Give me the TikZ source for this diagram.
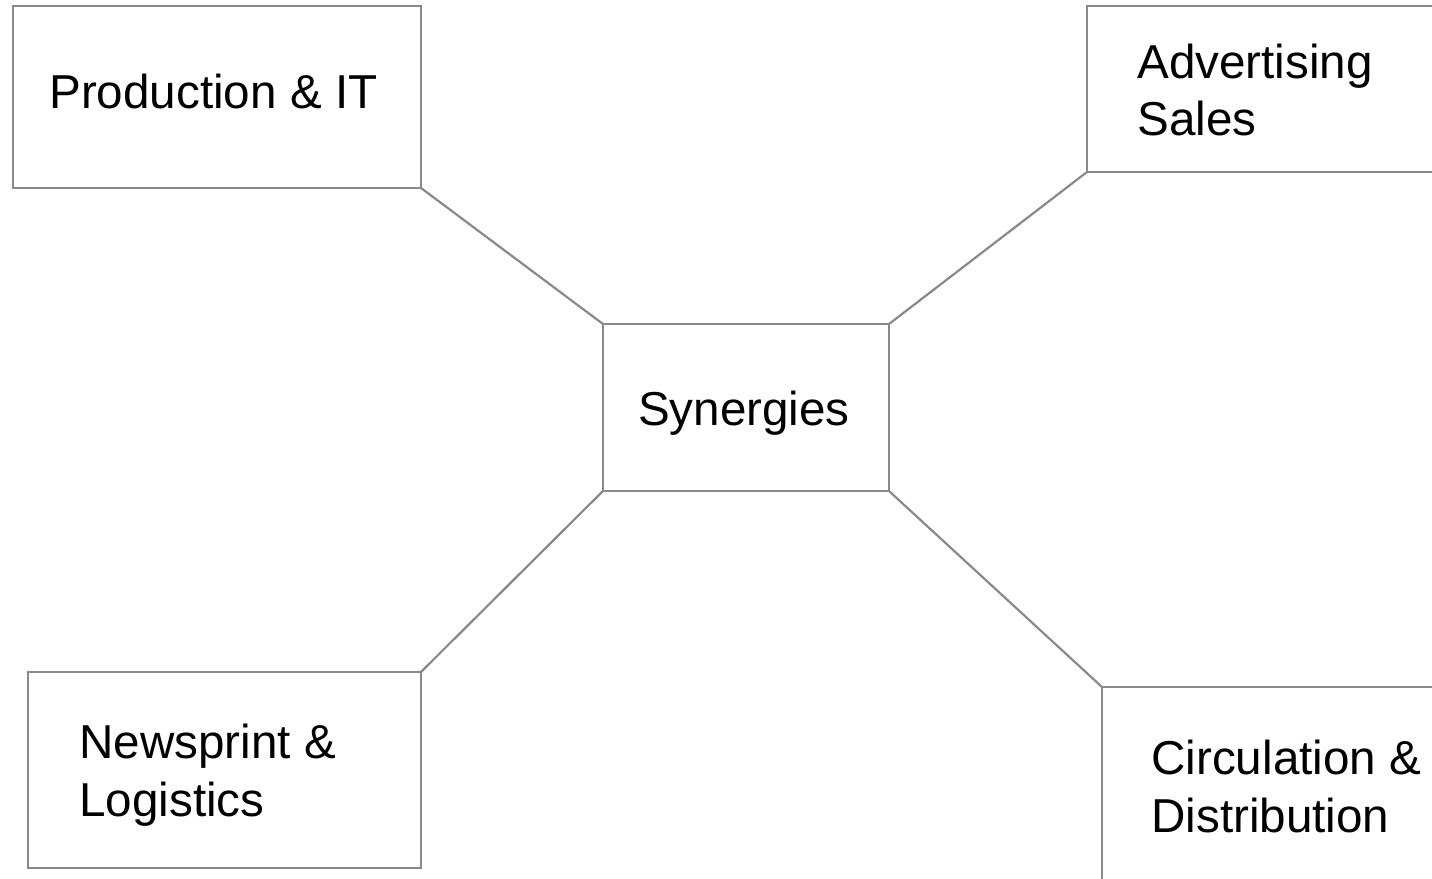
\documentclass[tikz,border=0pt]{standalone}
\usepackage{fontspec}
\setmainfont{Liberation Sans}
\definecolor{edge}{RGB}{137,137,137}
\begin{document}
\begin{tikzpicture}[x=0.5pt,y=-0.5pt,
  box/.style={draw=edge,line width=1.1pt,rectangle,inner sep=0pt,outer sep=0pt,anchor=north west},
  lbl/.style={font=\fontsize{23.8}{28.5}\selectfont,anchor=base west,inner sep=0pt,text=black},
  link/.style={draw=edge,line width=1.1pt}]
\useasboundingbox (0,0) rectangle (1432,879);
\clip (0,0) rectangle (1432,879);
\node[box,minimum width=204pt,minimum height=91pt] (prod) at (13,6) {};
\node[box,minimum width=186.5pt,minimum height=83pt] (adv) at (1087,6) {};
\node[box,minimum width=143pt,minimum height=83.5pt] (syn) at (603,324) {};
\node[box,minimum width=196.5pt,minimum height=98pt] (news) at (28,672) {};
\node[box,minimum width=180pt,minimum height=110pt] (circ) at (1102,687) {};
\node[lbl] (prodt) at (49,108) {Production \& IT};
\node[lbl] (advt1) at (1137,78) {Advertising};
\node[lbl] (advt2) at (1137,135) {Sales};
\node[lbl,anchor=base] (synt) at (744,425) {Synergies};
\node[lbl] (newst1) at (79,758) {Newsprint \&};
\node[lbl] (newst2) at (79,816) {Logistics};
\node[lbl] (circt1) at (1151,774) {Circulation \&};
\node[lbl] (circt2) at (1151,832) {Distribution};
\draw[link] (prod.south east) -- (syn.north west);
\draw[link] (adv.south west) -- (syn.north east);
\draw[link] (news.north east) -- (syn.south west);
\draw[link] (circ.north west) -- (syn.south east);
\end{tikzpicture}
\end{document}
